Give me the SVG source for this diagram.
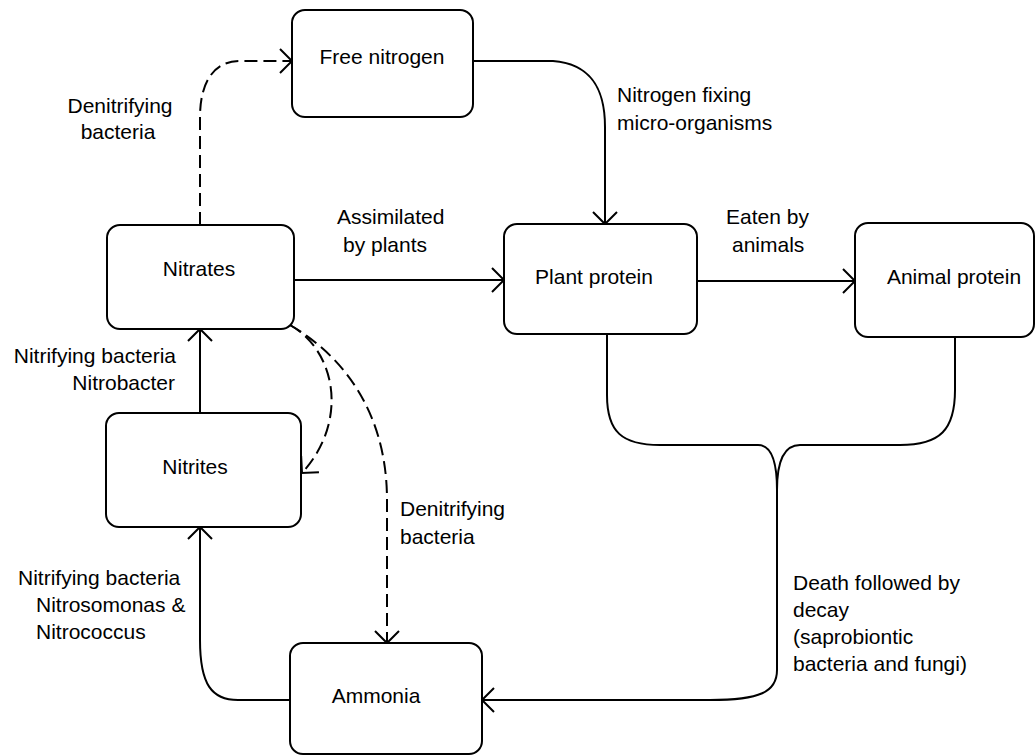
<svg xmlns="http://www.w3.org/2000/svg" width="1035" height="756" viewBox="0 0 1035 756">
<style>
.box{fill:#fff;stroke:#000;stroke-width:2}
.ln{fill:none;stroke:#000;stroke-width:2}
.dash{stroke-dasharray:13 6}
text{font-family:"Liberation Sans",Arial,sans-serif;font-size:21px;fill:#000}
.c{text-anchor:middle}
</style>
<defs>
<marker id="arr" markerUnits="userSpaceOnUse" viewBox="0 0 30 30" markerWidth="30" markerHeight="30" refX="15" refY="15" orient="auto">
<path d="M3,3 L15,15 L3,27" fill="none" stroke="#000" stroke-width="2" stroke-dasharray="none"/>
</marker>
</defs>
<rect width="1035" height="756" fill="#fff"/>
<g id="connectors">
<path class="ln dash" d="M200,225 V117 C200,85 212,61 240,61 H292" marker-end="url(#arr)"/>
<path class="ln" d="M473,61 H553 C592,64 605,90 605,127 V224" marker-end="url(#arr)"/>
<path class="ln" d="M294,280 H504" marker-end="url(#arr)"/>
<path class="ln" d="M697,281 H855" marker-end="url(#arr)"/>
<path class="ln" d="M607,334 V395 C607,432 622,445 660,445 H758 C772,445 777,462 777,490 V670 C777,692 760,700 710,700 H482" marker-end="url(#arr)"/>
<path class="ln" d="M955,337 V390 C955,430 940,445 900,445 H800 C784,445 777,462 777,490"/>
<path class="ln" d="M200,413 V329" marker-end="url(#arr)"/>
<path class="ln" d="M290,700 H238 C212,700 200,685 200,640 V527" marker-end="url(#arr)"/>
<path class="ln dash" d="M290,325 C335,350 350,420 302,473" marker-end="url(#arr)"/>
<path class="ln dash" d="M290,325 C350,360 387,420 387,500 V643" marker-end="url(#arr)"/>
</g>
<g id="free-nitrogen">
<rect class="box" x="292" y="10" width="181" height="107" rx="13"/>
<text class="c" x="382" y="64">Free nitrogen</text>
</g>
<g id="nitrates">
<rect class="box" x="107" y="225" width="187" height="104" rx="13"/>
<text class="c" x="199" y="276">Nitrates</text>
</g>
<g id="plant-protein">
<rect class="box" x="504" y="224" width="193" height="110" rx="13"/>
<text class="c" x="594" y="284">Plant protein</text>
</g>
<g id="animal-protein">
<rect class="box" x="855" y="223" width="179" height="114" rx="13"/>
<text class="c" x="954" y="284">Animal protein</text>
</g>
<g id="nitrites">
<rect class="box" x="106" y="413" width="195" height="114" rx="13"/>
<text class="c" x="195" y="474">Nitrites</text>
</g>
<g id="ammonia">
<rect class="box" x="290" y="643" width="192" height="111" rx="13"/>
<text class="c" x="376" y="703">Ammonia</text>
</g>
<g id="labels">
<text class="c" x="120" y="113">Denitrifying</text>
<text class="c" x="118" y="139">bacteria</text>
<text x="617" y="102">Nitrogen fixing</text>
<text x="617" y="130">micro-organisms</text>
<text x="337" y="224">Assimilated</text>
<text x="343" y="252">by plants</text>
<text x="726" y="224">Eaten by</text>
<text x="732" y="252">animals</text>
<text x="176" y="363" text-anchor="end">Nitrifying bacteria</text>
<text x="175" y="390" text-anchor="end">Nitrobacter</text>
<text x="400" y="516">Denitrifying</text>
<text x="400" y="544">bacteria</text>
<text x="18" y="585">Nitrifying bacteria</text>
<text x="36" y="612">Nitrosomonas &amp;</text>
<text x="36" y="639">Nitrococcus</text>
<text x="793" y="590">Death followed by</text>
<text x="793" y="617">decay</text>
<text x="793" y="644">(saprobiontic</text>
<text x="793" y="671">bacteria and fungi)</text>
</g>
</svg>
